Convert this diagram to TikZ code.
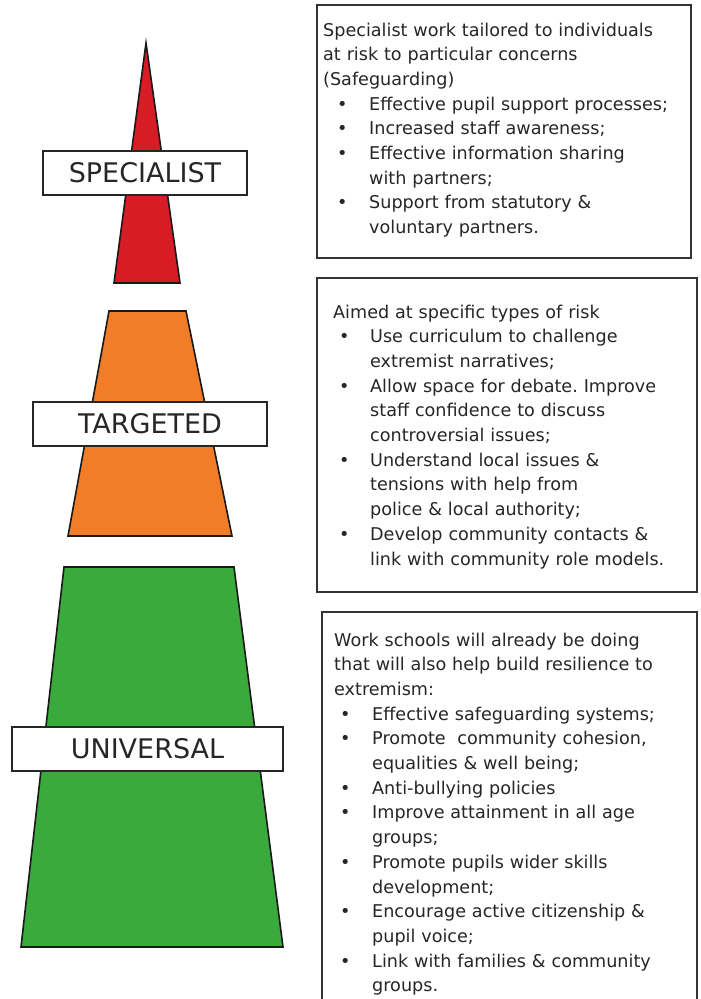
\documentclass[tikz,border=0pt]{standalone}
\usepackage{fontspec}
\setmainfont{DejaVu Sans}
\frenchspacing
\definecolor{redc}{RGB}{216,28,38}
\definecolor{orangec}{RGB}{242,125,40}
\definecolor{greenc}{RGB}{58,170,60}
\newlength\bulind
\newlength\txtind
\newcommand\itm{\par\hangindent=\txtind\hangafter=1\noindent\hspace*{\bulind}\makebox[\dimexpr\txtind-\bulind\relax][l]{\textbullet}\ignorespaces}
\tikzset{
  tier/.style={draw=black!90, line width=1.6pt, line join=miter},
  lbl/.style={draw=black!85, line width=1.3pt, fill=white, inner sep=0pt,
    minimum height=44pt, text=black!85, font=\fontsize{27}{30}\selectfont},
  frame/.style={draw=black!80, line width=1.2pt},
  body/.style={anchor=base west, inner sep=0pt, text width=380pt, align=left,
    text=black!85, font=\fontsize{17.6}{24.7}\selectfont\frenchspacing}
}
\begin{document}
\begin{tikzpicture}[x=1pt,y=-1pt]
\clip (0,0) rectangle (701,999);
\fill[white] (0,0) rectangle (701,999);
% tiers
\draw[tier, fill=redc] (146,43) -- (180,283) -- (114,283) -- cycle;
\draw[tier, fill=orangec] (109,311) -- (186,311) -- (232,536) -- (68,536) -- cycle;
\draw[tier, fill=greenc] (64,567) -- (234,567) -- (283,947) -- (21,947) -- cycle;
% labels
\node[lbl, minimum width=204pt] (spec) at (145,173) {SPECIALIST};
\node[lbl, minimum width=234pt] (targ) at (150,424) {TARGETED};
\node[lbl, minimum width=271pt] (univ) at (147.5,749) {UNIVERSAL};
% frames
\draw[frame] (317,5) rectangle (691,258);
\draw[frame] (317,278) rectangle (697,592);
\draw[frame] (322,612) rectangle (697,1010);
% texts
\node[body] (t1) at (323,36) {\setlength\bulind{14pt}\setlength\txtind{46pt}%
Specialist work tailored to individuals\newline at risk to particular concerns\newline (Safeguarding)
\itm Effective pupil support processes;
\itm Increased staff awareness;
\itm Effective information sharing\newline with partners;
\itm Support from statutory \&\newline voluntary partners.\par};
\node[body] (t2) at (333,318) {\setlength\bulind{6pt}\setlength\txtind{37pt}%
Aimed at specific types of risk
\itm Use curriculum to challenge\newline extremist narratives;
\itm Allow space for debate. Improve\newline staff confidence to discuss\newline controversial issues;
\itm Understand local issues \&\newline tensions with help from\newline police \& local authority;
\itm Develop community contacts \&\newline link with community role models.\par};
\node[body] (t3) at (334,646) {\setlength\bulind{6pt}\setlength\txtind{38pt}%
Work schools will already be doing\newline that will also help build resilience to\newline extremism:
\itm Effective safeguarding systems;
\itm Promote\ \ community cohesion,\newline equalities \& well being;
\itm Anti-bullying policies
\itm Improve attainment in all age\newline groups;
\itm Promote pupils wider skills\newline development;
\itm Encourage active citizenship \&\newline pupil voice;
\itm Link with families \& community\newline groups.\par};
\end{tikzpicture}
\end{document}
